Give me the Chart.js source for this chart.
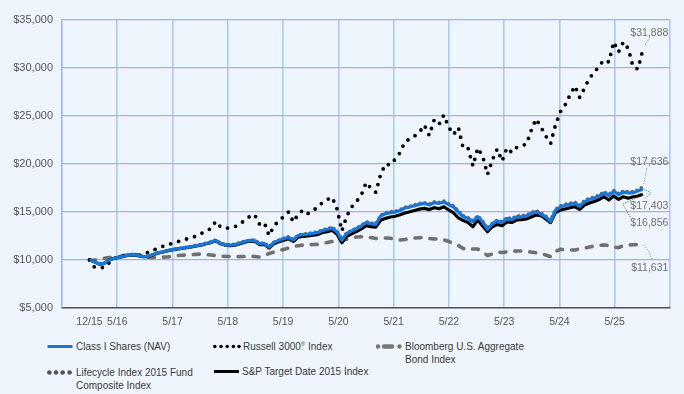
<!DOCTYPE html>
<html>
<head>
<meta charset="utf-8">
<script src="https://cdn.jsdelivr.net/npm/chart.js@4.4.1/dist/chart.umd.min.js"></script>
<style>
  html, body { margin: 0; padding: 0; background: #eef5fc; }
  #wrap { position: relative; width: 684px; height: 394px; overflow: hidden; }
  #chart { position: absolute; left: 0; top: 0; }
  .leg { position: absolute; height: 13px; font-family: "Liberation Sans Narrow", "Liberation Sans", Arial, sans-serif;
         font-size: 10px; color: #3a3a3a; line-height: 13px; white-space: nowrap; }
  .leg svg { position: absolute; left: 0; top: 0; }
  .leg span { position: absolute; top: 0; }
</style>
</head>
<body>
<div id="wrap">
  <canvas id="chart" width="684" height="334"></canvas>

  <div class="leg" style="left:47px; top:340px;">
    <svg width="28" height="13"><line x1="0.5" y1="6.5" x2="25.5" y2="6.5" stroke="#1976d2" stroke-width="3"/></svg>
    <span style="left:29px;">Class I Shares (NAV)</span>
  </div>
  <div class="leg" style="left:213px; top:340px;">
    <svg width="28" height="13">
      <circle cx="1.8" cy="6.5" r="1.8" fill="#000"/><circle cx="8" cy="6.5" r="1.8" fill="#000"/>
      <circle cx="14.2" cy="6.5" r="1.8" fill="#000"/><circle cx="20.4" cy="6.5" r="1.8" fill="#000"/>
      <circle cx="26" cy="6.5" r="1.8" fill="#000"/></svg>
    <span style="left:30px;">Russell 3000<sup style="font-size:6px;line-height:0;">®</sup> Index</span>
  </div>
  <div class="leg" style="left:376px; top:340px;">
    <svg width="28" height="13">
      <circle cx="2" cy="6.5" r="2.2" fill="#777"/>
      <line x1="8" y1="6.5" x2="16" y2="6.5" stroke="#777" stroke-width="4.4" stroke-linecap="round"/>
      <circle cx="23.5" cy="6.5" r="2.2" fill="#777"/></svg>
    <span style="left:29px;">Bloomberg U.S. Aggregate<br>Bond Index</span>
  </div>
  <div class="leg" style="left:47px; top:366px;">
    <svg width="28" height="13">
      <circle cx="2.3" cy="6.5" r="2.3" fill="#555"/><circle cx="9" cy="6.5" r="2.3" fill="#555"/>
      <circle cx="15.7" cy="6.5" r="2.3" fill="#555"/><circle cx="22.6" cy="6.5" r="2.3" fill="#555"/></svg>
    <span style="left:29px;">Lifecycle Index 2015 Fund<br>Composite Index</span>
  </div>
  <div class="leg" style="left:214px; top:365px;">
    <svg width="28" height="13"><line x1="0" y1="6.5" x2="25" y2="6.5" stroke="#000" stroke-width="3"/></svg>
    <span style="left:28px;">S&amp;P Target Date 2015 Index</span>
  </div>
</div>

<script>
// month-end values, first point = starting $10,000 (labelled 12/15), last = 5/25
const classI = [10000,9820,9580,9640,10000,10160,10280,10390,10520,10550,
  10470,10360,10360,10550,10730,10830,10970,11070,11170,11230,
  11320,11390,11490,11580,11720,11840,12050,11670,11590,11560,
  11610,11770,11930,12030,12030,11700,11720,11350,11820,12030,
  12210,12360,12080,12550,12640,12690,12780,12840,13070,13180,
  13330,12920,12080,12760,13020,13260,13540,13890,13800,13700,
  14580,14840,14930,15000,15160,15420,15520,15660,15800,15890,
  15730,15970,15890,16040,15780,15520,15000,14510,14320,14010,
  14510,13960,13200,13750,14060,13910,14320,14190,14480,14510,
  14580,14840,15030,14790,14480,14010,15160,15520,15680,15800,
  15910,15600,16070,16300,16440,16650,16980,16720,17140,16800,
  17080,16980,17010,17190,17403]

const russell3000 = [10000,9270,9200,9220,9690,10160,10310,10420,10570,10570,
  10470,10520,10780,10990,11200,11410,11560,11740,11880,12030,
  12190,12310,12500,12760,13020,13280,14030,13440,13330,13330,
  13490,13720,14170,14530,14740,13750,13910,12550,13570,14060,
  14530,15000,13960,14790,15210,14840,15160,15470,15990,16300,
  16530,15310,13020,14580,15520,16090,16770,18070,17450,17050,
  18960,20000,19900,20520,21200,22340,22600,22920,23330,24060,
  22970,24580,24120,25100,23850,23070,23800,21620,21620,19790,
  21670,20830,18910,20420,21560,20310,21670,21200,21720,21930,
  22050,23490,24690,23850,22920,22140,24060,25420,26150,27190,
  28130,26930,27920,28960,29530,30210,30830,30630,32710,31670,
  32710,32030,30100,29900,31888]

const bloombergAgg = [10000,9970,10100,10180,10260,10290,10310,10470,10550,10570,
  10550,10470,10260,10260,10280,10290,10310,10390,10450,10490,
  10520,10550,10590,10630,10570,10520,10470,10420,10360,10360,
  10340,10360,10360,10420,10360,10310,10470,10680,10830,10990,
  11090,11250,11410,11490,11560,11590,11610,11630,11720,11820,
  11930,12050,12080,12160,12290,12400,12420,12420,12340,12240,
  12240,12290,12260,12190,12080,12140,12240,12290,12320,12340,
  12240,12190,12170,12110,11930,11720,11510,11200,11040,11150,
  11150,10830,10470,10630,10830,10780,10860,10890,10940,10940,
  10890,10830,10760,10680,10520,10360,10890,11110,11070,11040,
  11040,11150,11250,11350,11460,11510,11560,11510,11350,11280,
  11510,11560,11590,11610,11631]

const lifecycle2015 = [10000,9830,9600,9660,10020,10180,10300,10410,10540,10570,
  10490,10380,10380,10570,10750,10860,11000,11100,11200,11260,
  11350,11420,11530,11620,11760,11880,12090,11750,11630,11600,
  11650,11810,11970,12070,12070,11750,11770,11400,11870,12080,
  12270,12420,12140,12610,12710,12760,12850,12910,13140,13250,
  13400,12990,12140,12830,13090,13330,13620,13970,13880,13780,
  14670,14930,15020,15090,15250,15510,15610,15760,15900,15990,
  15830,16070,15990,16140,15880,15640,15100,14610,14420,14110,
  14610,14060,13300,13850,14160,14010,14430,14300,14590,14620,
  14690,14950,15140,14900,14590,14120,15280,15640,15800,15920,
  16030,15720,16190,16420,16560,16770,17100,16840,17260,16920,
  17200,17100,17130,17310,17636]

const spTarget2015 = [10000,9810,9570,9630,9990,10150,10270,10380,10500,10530,
  10450,10340,10340,10530,10710,10810,10950,11040,11140,11200,
  11290,11360,11460,11550,11690,11810,12010,11690,11540,11500,
  11550,11700,11860,11950,11950,11610,11630,11240,11700,11900,
  12070,12210,11930,12380,12470,12510,12590,12640,12860,12960,
  13100,12680,11800,12480,12730,12970,13240,13580,13480,13420,
  14150,14340,14480,14560,14720,14900,15020,15160,15300,15380,
  15250,15450,15340,15550,15210,14900,14380,14110,13910,13470,
  14170,13540,12950,13470,13700,13570,13960,13910,14170,14190,
  14270,14480,14690,14630,14270,13890,14930,15210,15310,15450,
  15550,15280,15730,15940,16090,16300,16590,16250,16670,16320,
  16590,16430,16590,16670,16856]

const firstLabel = '12/15'
const yearLabels = ['5/16','5/17','5/18','5/19','5/20','5/21','5/22','5/23','5/24','5/25']

// axis range in month index units (grid divides it into 11 equal parts)
const xMin = -5.667
const xMax = 119.6
const gridStep = (xMax - xMin) / 11

const xTickVals = [xMin, 0]
const xTickText = ['', firstLabel]
yearLabels.forEach((lab, k) => {
    xTickVals.push(xMin + (k + 1) * gridStep)
    xTickText.push(lab)
})
xTickVals.push(xMax)
xTickText.push('')

function toPoints(arr) {
    return arr.map((v, i) => ({ x: i, y: v }))
}

const money = (v) => '$' + v.toLocaleString('en-US')

Chart.defaults.font.family = '"Liberation Sans", Arial, sans-serif'

// value callouts at the right end of the lines
const endLabels = [
    { ds: 2, color: '#888', dy: -16.3, path: [[2.5, -5], [7.5, -13.5]] },
    { ds: 3, color: '#888', dy: -24.4, path: [[1, -3], [4, -19]] },
    { ds: 0, color: '#1976d2', dy: 17, path: [[1, 0], [8, 4], [2, 10]] },
    { ds: 1, color: '#444', dy: 28.5, path: [[-1, 1], [-20, 10], [-12, 24]] },
    { ds: 4, color: '#888', dy: 23.4, path: [[1, 1], [6, 7], [9, 15]] }
]

const endLabelPlugin = {
    id: 'endLabels',
    afterDatasetsDraw(chart) {
        const ctx = chart.ctx
        ctx.save()
        endLabels.forEach((lab) => {
            const meta = chart.getDatasetMeta(lab.ds)
            const pt = meta.data[meta.data.length - 1]
            const vals = chart.data.datasets[lab.ds].data
            const val = vals[vals.length - 1].y

            ctx.setLineDash([1, 1.5])
            ctx.lineWidth = 1
            ctx.strokeStyle = lab.color
            ctx.beginPath()
            lab.path.forEach((p, i) => {
                if (i === 0) ctx.moveTo(pt.x + p[0], pt.y + p[1])
                else ctx.lineTo(pt.x + p[0], pt.y + p[1])
            })
            ctx.stroke()

            ctx.setLineDash([])
            ctx.fillStyle = '#707070'
            ctx.font = '10.5px "Liberation Sans", Arial, sans-serif'
            ctx.textAlign = 'right'
            ctx.textBaseline = 'middle'
            ctx.fillText(money(val), pt.x + 25.5, pt.y + lab.dy)
        })
        ctx.restore()
    }
}

new Chart(document.getElementById('chart'), {
    type: 'line',
    data: {
        datasets: [
            {
                label: 'Class I Shares (NAV)',
                data: toPoints(classI),
                borderColor: '#1976d2',
                borderWidth: 3.3,
                order: 0
            },
            {
                label: 'S&P Target Date 2015 Index',
                data: toPoints(spTarget2015),
                borderColor: '#000',
                borderWidth: 3.2,
                order: 1
            },
            {
                label: 'Russell 3000® Index',
                data: toPoints(russell3000),
                borderColor: '#000',
                borderWidth: 3.8,
                borderDash: [0, 8.3],
                borderCapStyle: 'round',
                order: 2
            },
            {
                label: 'Lifecycle Index 2015 Fund Composite Index',
                data: toPoints(lifecycle2015),
                borderColor: '#666',
                borderWidth: 3.6,
                borderDash: [0, 5],
                borderCapStyle: 'round',
                order: 3
            },
            {
                label: 'Bloomberg U.S. Aggregate Bond Index',
                data: toPoints(bloombergAgg),
                borderColor: '#707070',
                borderWidth: 3.6,
                borderDash: [6, 9],
                borderCapStyle: 'round',
                order: 4
            }
        ]
    },
    options: {
        responsive: false,
        animation: false,
        events: [],
        layout: { padding: { top: 20, right: 14, left: 0, bottom: 0 } },
        elements: {
            point: { radius: 0 },
            line: { tension: 0, fill: false, borderJoinStyle: 'round' }
        },
        plugins: {
            legend: { display: false },
            tooltip: { enabled: false }
        },
        scales: {
            x: {
                type: 'linear',
                min: xMin,
                max: xMax,
                afterBuildTicks: (axis) => {
                    axis.ticks = xTickVals.map((v) => ({ value: v }))
                },
                afterFit: (scale) => { scale.height = 26 },
                ticks: {
                    autoSkip: false,
                    maxRotation: 0,
                    padding: 8,
                    color: '#555',
                    font: { size: 10.5 },
                    callback: (value, index) => xTickText[index]
                },
                grid: {
                    drawTicks: false,
                    lineWidth: 1.6,
                    color: (c) => (c.tick && c.tick.value === 0) ? 'rgba(0,0,0,0)' : '#abc9f1'
                },
                border: { color: '#555', width: 1.5 }
            },
            y: {
                min: 5000,
                max: 35000,
                afterFit: (scale) => { scale.width = 62 },
                ticks: {
                    stepSize: 5000,
                    padding: 9,
                    color: '#555',
                    font: { size: 11 },
                    callback: (v) => money(v)
                },
                grid: {
                    drawTicks: false,
                    lineWidth: 1.2,
                    color: '#92b9ee'
                },
                border: { color: '#92b9ee', width: 1.2 }
            }
        }
    },
    plugins: [endLabelPlugin]
})
</script>
</body>
</html>
